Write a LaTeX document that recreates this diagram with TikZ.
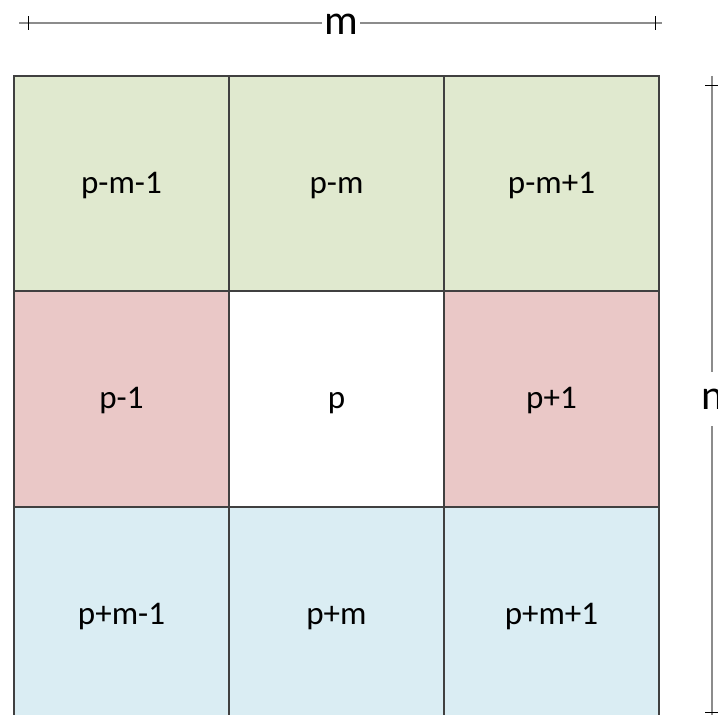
\documentclass[tikz,border=0pt]{standalone}
\usepackage{fontspec}
\setmainfont{Carlito}

\definecolor{upperrow}{HTML}{E0E9CF}
\definecolor{siderow}{HTML}{EAC8C7}
\definecolor{lowerrow}{HTML}{DAEDF3}
\definecolor{cellframe}{HTML}{404040}
\definecolor{dimgray}{HTML}{8C8C8C}

\tikzset{
	cell/.style={draw=cellframe, line width=0.4mm, minimum width=53.75mm, minimum height=53.75mm, inner sep=0pt, outer sep=0pt, text height=5mm, text depth=0mm, font=\fontsize{23.5}{23.5}\selectfont},
	dimline/.style={draw=dimgray, line width=0.45mm},
	dimtick/.style={draw=black, line width=0.2mm},
	dimlabel/.style={fill=white, inner xsep=0.5mm, inner ysep=0mm, font=\fontsize{30}{30}\selectfont},
}

\begin{document}
\begin{tikzpicture}[x=0.25mm,y=0.25mm]
	
	\clip (0,0) rectangle (718,715);
	\fill[white] (0,0) rectangle (718,715);
	
	% top row of neighbours
	\node[cell, fill=upperrow] (nw) at (121.5,531.5) {p-m-1};
	\node[cell, fill=upperrow] (n) at (336.5,531.5) {p-m};
	\node[cell, fill=upperrow] (ne) at (551.5,531.5) {p-m+1};
	
	% middle row, p in the centre
	\node[cell, fill=siderow] (w) at (121.5,316) {p-1};
	\node[cell, fill=white] (c) at (336.5,316) {p};
	\node[cell, fill=siderow] (e) at (551.5,316) {p+1};
	
	% bottom row
	\node[cell, fill=lowerrow] (sw) at (121.5,100.5) {p+m-1};
	\node[cell, fill=lowerrow] (s) at (336.5,100.5) {p+m};
	\node[cell, fill=lowerrow] (se) at (551.5,100.5) {p+m+1};
	
	% width m
	\coordinate (mleft) at (19,692);
	\coordinate (mright) at (662,692);
	\draw[dimline] (mleft) -- (mright);
	\draw[dimtick] (28,685) -- (28,699);
	\draw[dimtick] (655,685) -- (655,699);
	\node[dimlabel, anchor=base] (mlabel) at (341,680) {m};
	
	% height n
	\coordinate (ntop) at (712,639);
	\coordinate (nbottom) at (712,-5);
	\draw[dimline] (ntop) -- (nbottom);
	\draw[dimtick] (705,630) -- (719,630);
	\draw[dimtick] (705,3) -- (719,3);
	\node[dimlabel, minimum height=13.5mm, anchor=west] (nlabel) at (699,316) {n};
	
\end{tikzpicture}
\end{document}
